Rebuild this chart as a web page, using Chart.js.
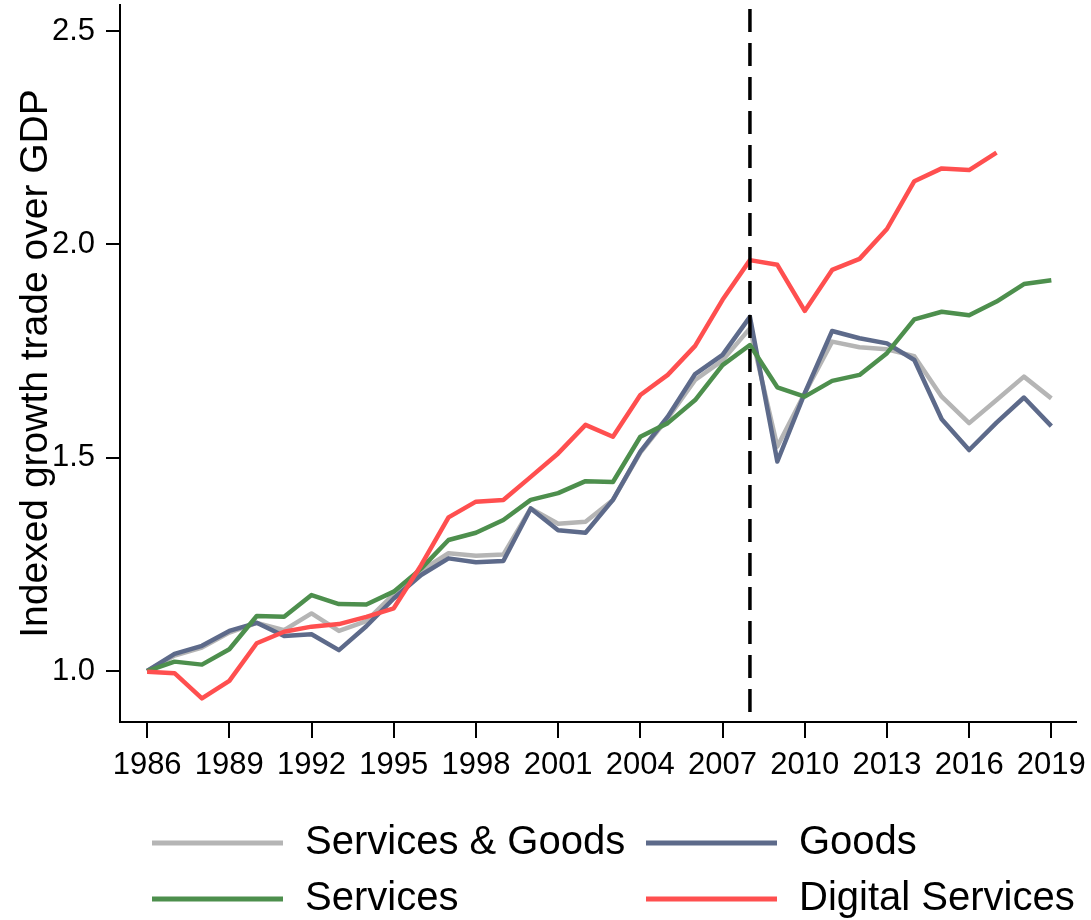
<!DOCTYPE html>
<html>
<head>
<meta charset="utf-8">
<script src="https://cdn.jsdelivr.net/npm/chart.js@4.4.0/dist/chart.umd.min.js"></script>
<style>
    html, body { margin: 0; padding: 0; background: #fff; }
    #grafico { display: block; }
</style>
</head>
<body>
<canvas id="grafico" width="1091" height="920"></canvas>
<script>
// ===== DADOS =====
const anos = [1986, 1987, 1988, 1989, 1990, 1991, 1992, 1993, 1994, 1995, 1996, 1997,
    1998, 1999, 2000, 2001, 2002, 2003, 2004, 2005, 2006, 2007, 2008, 2009, 2010,
    2011, 2012, 2013, 2014, 2015, 2016, 2017, 2018, 2019];

const servicosBens = [1.000, 1.036, 1.055, 1.090, 1.113, 1.096, 1.135, 1.094, 1.117, 1.180,
    1.235, 1.276, 1.270, 1.273, 1.381, 1.345, 1.350, 1.401, 1.512, 1.592, 1.682, 1.728,
    1.803, 1.526, 1.651, 1.772, 1.759, 1.754, 1.738, 1.643, 1.581, 1.635, 1.690, 1.639];

const bens = [1.000, 1.040, 1.059, 1.094, 1.113, 1.082, 1.086, 1.049, 1.105, 1.170,
    1.225, 1.264, 1.255, 1.258, 1.381, 1.330, 1.324, 1.401, 1.514, 1.596, 1.696, 1.741,
    1.830, 1.491, 1.651, 1.797, 1.780, 1.768, 1.729, 1.590, 1.518, 1.582, 1.641, 1.574];

const servicos = [1.000, 1.022, 1.015, 1.051, 1.129, 1.127, 1.178, 1.157, 1.156, 1.186,
    1.240, 1.307, 1.324, 1.354, 1.401, 1.417, 1.445, 1.443, 1.549, 1.581, 1.635, 1.717,
    1.764, 1.665, 1.643, 1.680, 1.694, 1.745, 1.824, 1.842, 1.834, 1.866, 1.907, 1.916];

const servicosDigitais = [0.998, 0.995, 0.936, 0.977, 1.065, 1.092, 1.104, 1.110, 1.127, 1.147,
    1.248, 1.360, 1.397, 1.401, 1.455, 1.510, 1.577, 1.549, 1.647, 1.694, 1.762, 1.870,
    1.963, 1.952, 1.844, 1.940, 1.966, 2.036, 2.148, 2.178, 2.174, 2.215, null, null];

const nomesSeries = ['Services & Goods', 'Goods', 'Services', 'Digital Services'];
const ticksX = [1986, 1989, 1992, 1995, 1998, 2001, 2004, 2007, 2010, 2013, 2016, 2019];
const ticksY = [1.0, 1.5, 2.0, 2.5];
const anoCrise = 2008;

const cores = ['#b5b5b5', '#5d6a8a', '#4d8f4d', '#ff4f4f'];
const fonte = 'Liberation Sans, Arial, Helvetica, sans-serif';

function pontos(valores) {
    return anos.map((ano, i) => ({ x: ano, y: valores[i] }));
}

// ===== LINHA TRACEJADA (2008) =====
const linhaCrise = {
    id: 'linhaCrise',
    afterDatasetsDraw(chart) {
        const { ctx, chartArea, scales } = chart;
        const x = scales.x.getPixelForValue(anoCrise);
        ctx.save();
        ctx.strokeStyle = '#000';
        ctx.lineWidth = 3.5;
        ctx.setLineDash([23, 11]);
        ctx.lineDashOffset = 30;
        ctx.beginPath();
        ctx.moveTo(x, chartArea.top);
        ctx.lineTo(x, chartArea.bottom);
        ctx.stroke();
        ctx.restore();
    }
};

// ===== LEGENDA EM DUAS COLUNAS =====
const legendaColunas = {
    id: 'legendaColunas',
    afterDraw(chart) {
        const ctx = chart.ctx;
        ctx.save();
        ctx.font = '40px ' + fonte;
        ctx.textBaseline = 'middle';
        ctx.fillStyle = '#000';
        chart.data.datasets.forEach((ds, i) => {
            const x0 = 152 + (i % 2) * 494;
            const y = 843 + Math.floor(i / 2) * 56;
            ctx.strokeStyle = ds.borderColor;
            ctx.lineWidth = 5;
            ctx.beginPath();
            ctx.moveTo(x0, y);
            ctx.lineTo(x0 + 131, y);
            ctx.stroke();
            ctx.fillText(ds.label, x0 + 153, y);
        });
        ctx.restore();
    }
};

const series = [servicosBens, bens, servicos, servicosDigitais];

const ctx = document.getElementById('grafico').getContext('2d');
new Chart(ctx, {
    type: 'line',
    data: {
        datasets: series.map((valores, i) => ({
            label: nomesSeries[i],
            data: pontos(valores),
            borderColor: cores[i],
            backgroundColor: cores[i],
            borderWidth: 4.5,
            pointRadius: 0,
            tension: 0,
            fill: false,
            borderJoinStyle: 'round',
            order: series.length - i
        }))
    },
    options: {
        responsive: false,
        animation: false,
        devicePixelRatio: 1,
        layout: {
            padding: { top: 5, right: 15, bottom: 138, left: 0 }
        },
        plugins: {
            legend: { display: false },
            tooltip: { enabled: false }
        },
        scales: {
            x: {
                type: 'linear',
                min: 1985.01,
                max: 2019.9,
                afterBuildTicks: (escala) => { escala.ticks = ticksX.map(v => ({ value: v })); },
                afterFit: (escala) => {
                    escala.height = 60;
                    escala.paddingLeft = 0;
                    escala.paddingRight = 0;
                },
                border: { color: '#000', width: 2 },
                grid: { drawOnChartArea: false, color: '#000', tickLength: 16, lineWidth: 2 },
                ticks: {
                    color: '#000',
                    padding: 9,
                    maxRotation: 0,
                    autoSkip: false,
                    font: { family: fonte, size: 31 },
                    callback: (v) => String(v)
                }
            },
            y: {
                type: 'linear',
                min: 0.8805,
                max: 2.561,
                afterBuildTicks: (escala) => { escala.ticks = ticksY.map(v => ({ value: v })); },
                afterFit: (escala) => {
                    escala.width = 120;
                    escala.paddingTop = 0;
                    escala.paddingBottom = 0;
                },
                border: { color: '#000', width: 2 },
                grid: { drawOnChartArea: false, color: '#000', tickLength: 14, lineWidth: 2 },
                ticks: {
                    color: '#000',
                    padding: 11,
                    font: { family: fonte, size: 31 },
                    callback: (v) => v.toFixed(1)
                },
                title: {
                    display: true,
                    text: 'Indexed growth trade over GDP',
                    color: '#000',
                    font: { family: fonte, size: 39 },
                    padding: { top: 13, bottom: 0 }
                }
            }
        }
    },
    plugins: [linhaCrise, legendaColunas]
});
</script>
</body>
</html>
